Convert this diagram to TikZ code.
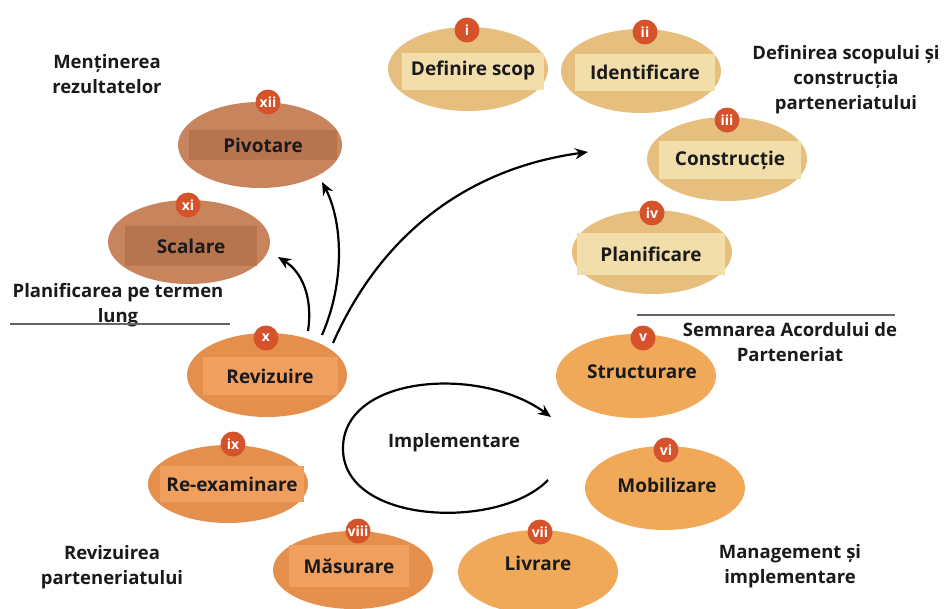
\documentclass[tikz,border=0pt]{standalone}
\usepackage{fontspec}
\setmainfont{Open Sans}
\usetikzlibrary{shapes.geometric,arrows.meta}
\definecolor{tanE}{HTML}{E6BF7E}
\definecolor{tanR}{HTML}{F2DEAA}
\definecolor{brnE}{HTML}{C7845D}
\definecolor{brnR}{HTML}{B6744F}
\definecolor{orgE}{HTML}{E58F4D}
\definecolor{orgR}{HTML}{F09F5E}
\definecolor{ltoE}{HTML}{F0A958}
\definecolor{badgeC}{HTML}{D5522B}
\definecolor{inkC}{HTML}{1A1A1A}
\tikzset{
  stage/.style={ellipse, minimum width=160pt, minimum height=84pt, inner sep=0pt},
  bar/.style={rectangle, inner sep=0pt, text=inkC, font=\bfseries\fontsize{19}{22}\selectfont},
  badge/.style={circle, fill=badgeC, minimum size=25pt, inner sep=0pt, text=white, font=\bfseries\fontsize{14}{16}\selectfont},
  lbl/.style={align=center, text=inkC, font=\bfseries\fontsize{18.5}{25}\selectfont},
  flow/.style={line width=2.2pt, -{Stealth[length=13pt,width=11pt]}},
  rule/.style={line width=1.2pt, draw=gray!80!black}
}
\begin{document}
\begin{tikzpicture}[x=1pt,y=-1pt]
\useasboundingbox[fill=white] (0,0) rectangle (945,608);
% i
\node[stage, fill=tanE] (e1) at (468,69) {};
\node[bar, fill=tanR, minimum width=142pt, minimum height=37pt] (t1) at (473,71) {Definire scop};
\node[badge] (b1) at (467,30) {i};
% ii
\node[stage, fill=tanE] (e2) at (641,71) {};
\node[bar, fill=tanR, minimum width=140pt, minimum height=37pt] (t2) at (645,72) {Identificare};
\node[badge] (b2) at (645,32) {ii};
% iii
\node[stage, fill=tanE] (e3) at (727,159) {};
\node[bar, fill=tanR, minimum width=142pt, minimum height=38pt] (t3) at (730,160) {Construcție};
\node[badge] (b3) at (727,120) {iii};
% iv
\node[stage, fill=tanE] (e4) at (652,252) {};
\node[bar, fill=tanR, minimum width=148pt, minimum height=42pt] (t4) at (651,254) {Planificare};
\node[badge] (b4) at (652,213) {iv};
% v
\node[stage, fill=ltoE] (e5) at (636,376) {};
\node[bar] (t5) at (642,372) {Structurare};
\node[badge] (b5) at (643,338) {v};
% vi
\node[stage, fill=ltoE] (e6) at (665,488) {};
\node[bar] (t6) at (667,485) {Mobilizare};
\node[badge] (b6) at (666,450) {vi};
% vii
\node[stage, fill=ltoE] (e7) at (538,572) {};
\node[bar] (t7) at (538,563) {Livrare};
\node[badge] (b7) at (540,532) {vii};
% viii
\node[stage, fill=orgE, minimum height=78pt] (e8) at (353,570) {};
\node[bar, fill=orgR, minimum width=120pt, minimum height=42pt] (t8) at (349,566) {Măsurare};
\node[badge] (b8) at (358,531) {viii};
% ix
\node[stage, fill=orgE, minimum height=78pt] (e9) at (228,484) {};
\node[bar, fill=orgR, minimum width=144pt, minimum height=36pt] (t9) at (232,484) {Re-examinare};
\node[badge] (b9) at (233,444) {ix};
% x
\node[stage, fill=orgE] (e10) at (267,375) {};
\node[bar, fill=orgR, minimum width=135pt, minimum height=38pt] (t10) at (270,376) {Revizuire};
\node[badge] (b10) at (266,338) {x};
% xi
\node[stage, fill=brnE, minimum width=162pt] (e11) at (189,242) {};
\node[bar, fill=brnR, minimum width=132pt, minimum height=40pt] (t11) at (191,246) {Scalare};
\node[badge] (b11) at (188,205) {xi};
% xii
\node[stage, fill=brnE, minimum width=164pt, minimum height=86pt] (e12) at (260,145) {};
\node[bar, fill=brnR, minimum width=148pt, minimum height=30pt] (t12) at (263,145) {Pivotare};
\node[badge] (b12) at (268,102) {xii};

% labels
\node[lbl] (l1) at (107,74) {Menținerea\\rezultatelor};
\node[lbl] (l2) at (118,305) {Planificarea pe termen\\lung};
\node[lbl] (l3) at (846,80) {Definirea scopului și\\construcția\\parteneriatului};
\node[lbl] (l4) at (790,342) {Semnarea Acordului de\\Parteneriat};
\node[lbl] (l5) at (112,567) {Revizuirea\\parteneriatului};
\node[lbl] (l6) at (790,566) {Management și\\implementare};
\node[lbl] (l7) at (454,443) {Implementare};

% rules
\coordinate (r1a) at (10,324);
\coordinate (r1b) at (230,324);
\coordinate (r2a) at (637,315);
\coordinate (r2b) at (895,315);
\draw[rule] (r1a) -- (r1b);
\draw[rule] (r2a) -- (r2b);

% arrows from Revizuire
\coordinate (s1) at (308,331);
\coordinate (s2) at (322,335);
\coordinate (s3) at (333,343);
\coordinate (g1) at (278,257);
\coordinate (g2) at (322,182);
\coordinate (g3) at (588,152);
\draw[flow] (s1) .. controls (313,297) and (302,272) .. (g1);
\draw[flow] (s2) .. controls (346,280) and (342,220) .. (g2);
\draw[flow] (s3) .. controls (382,232) and (470,168) .. (g3);

% implementation loop
\coordinate (c1) at (548,480);
\coordinate (c2) at (343,450);
\coordinate (c3) at (551,417);
\draw[flow] (c1) .. controls (500,530) and (345,525) .. (c2)
             .. controls (341,375) and (480,365) .. (c3);
\end{tikzpicture}
\end{document}
